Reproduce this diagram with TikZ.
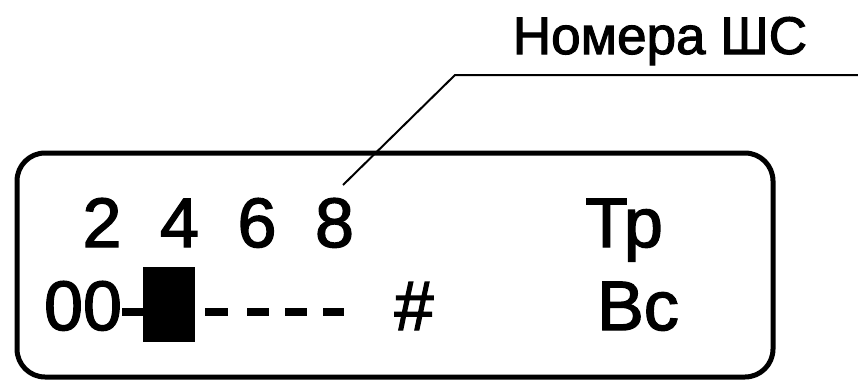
\documentclass[tikz,border=0pt]{standalone}
\usepackage{fontspec}
\setmainfont{Liberation Sans}
\newfontfamily\lcdfont[FakeBold=2]{Liberation Sans}

\begin{document}
\begin{tikzpicture}[x=1pt,y=-1pt,thick,
    lcd node/.style={inner sep=0pt,anchor=base,font=\lcdfont\fontsize{70}{84}\selectfont},
    label node/.style={inner sep=0pt,anchor=base,font=\lcdfont\fontsize{53}{63}\selectfont},
    seg/.style={line width=8pt},
    leader/.style={line width=2pt}]
    \useasboundingbox (0,0) rectangle (858,380);

    % display frame
    \draw[line width=5pt,rounded corners=28pt] (17,153) rectangle (773,377);

    % top row
    \foreach \d [count=\i from 0] in {2,4,6,8}
        \node[lcd node] (d\d) at (102+77.5*\i,247) {\d};
    \node[lcd node] (tr) at (624,247) {Тр};

    % bottom row
    \node[lcd node] (zz) at (83,330) {00};
    \node[fill,minimum width=52pt,minimum height=75pt,inner sep=0pt] (blk) at (169,304.5) {};
    \draw[seg] (zz.east |- 0,312) -- (blk.west |- 0,312);
    \foreach \a/\b in {205/228,247/269,285/307,323/344}
        \draw[seg] (\a,312) -- (\b,312);
    \node[lcd node] (hash) at (414,330) {\#};
    \node[lcd node] (vs) at (638,330) {Вс};

    % callout
    \coordinate (tip) at (343,185);
    \coordinate (bend) at (455,75);
    \coordinate (tail) at (858,75);
    \draw[leader] (tip) -- (bend) -- (tail);
    \node[label node] (lbl) at (660,54) {Номера ШС};
\end{tikzpicture}
\end{document}
